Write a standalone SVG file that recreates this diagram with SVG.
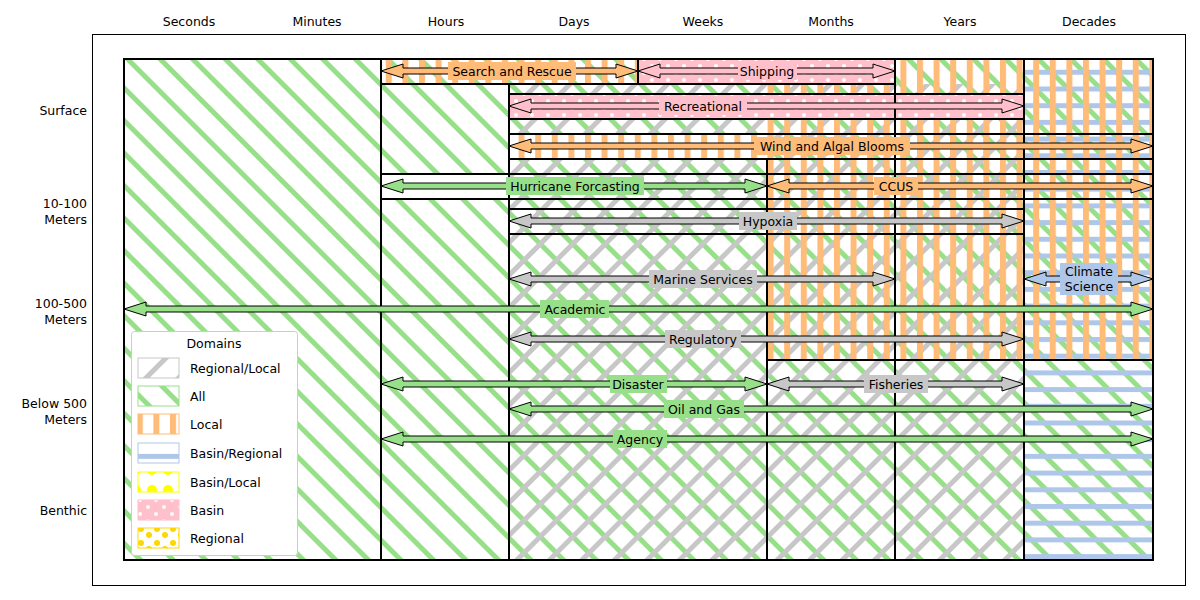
<svg xmlns="http://www.w3.org/2000/svg" width="1200" height="600" viewBox="0 0 1200 600">
<defs>
<pattern id="pAll" width="23" height="23" patternUnits="userSpaceOnUse" patternTransform="rotate(-45)"><rect width="5" height="23" fill="#98df8a"/></pattern>
<pattern id="pRL" width="23" height="23" patternUnits="userSpaceOnUse" patternTransform="rotate(45)"><rect width="5" height="23" fill="#c7c7c7"/></pattern>
<pattern id="pLoc" width="16.6" height="10" patternUnits="userSpaceOnUse" x="4"><rect width="6" height="10" fill="#ffbb78"/></pattern>
<pattern id="pBR" width="10" height="16.7" patternUnits="userSpaceOnUse" y="3"><rect width="10" height="5" fill="#aec7e8"/></pattern>
<pattern id="pBasin" width="16" height="14" patternUnits="userSpaceOnUse"><rect width="16" height="14" fill="#ffc0cb"/><circle cx="4" cy="3" r="2" fill="#fff"/><circle cx="12" cy="10" r="2" fill="#fff"/></pattern>
<pattern id="pBL" width="16" height="20" patternUnits="userSpaceOnUse"><circle cx="8" cy="10" r="5" fill="#ffff00"/></pattern>
<pattern id="pReg" width="16" height="14" patternUnits="userSpaceOnUse"><circle cx="5" cy="3" r="3" fill="#ffd700"/><circle cx="13" cy="11" r="3" fill="#ffd700"/></pattern>
</defs>
<style>
.t{font-family:"DejaVu Sans",sans-serif;font-size:12.5px;fill:#000}
.l{text-anchor:middle}
.r{text-anchor:end}
.b{fill:none;stroke:#000;stroke-width:2}
.a{stroke:#000;stroke-width:1}
.g{fill:#98df8a}.o{fill:#ffbb78}.p{fill:#ffc0cb}.y{fill:#c7c7c7}.u{fill:#aec7e8}
</style>
<rect width="1200" height="600" fill="#fff"/>
<rect x="92.5" y="34.5" width="1093" height="551" fill="none" stroke="#000"/>
<g class="t l">
<text x="189" y="26">Seconds</text><text x="317" y="26">Minutes</text><text x="446" y="26">Hours</text><text x="574" y="26">Days</text><text x="703" y="26">Weeks</text><text x="831" y="26">Months</text><text x="960" y="26">Years</text><text x="1089" y="26">Decades</text>
</g>
<g class="t r">
<text x="87" y="115">Surface</text>
<text x="87" y="208">10-100</text><text x="87" y="224">Meters</text>
<text x="87" y="308">100-500</text><text x="87" y="324">Meters</text>
<text x="87" y="408">Below 500</text><text x="87" y="424">Meters</text>
<text x="87" y="515">Benthic</text>
</g>
<g id="regions">
<rect x="124" y="59" width="1029" height="501" fill="url(#pAll)"/>
<rect x="509" y="84" width="515" height="476" fill="url(#pRL)"/>
<rect x="1024" y="59" width="129" height="501" fill="url(#pBR)"/>
<rect x="767" y="59" width="386" height="301" fill="url(#pLoc)"/>
<rect x="381" y="59" width="257" height="25" fill="url(#pLoc)"/>
<rect x="638" y="59" width="257" height="25" fill="url(#pBasin)"/>
<rect x="509" y="94" width="515" height="25" fill="url(#pBasin)"/>
<rect x="509" y="134" width="258" height="25" fill="#fff"/>
<rect x="509" y="134" width="644" height="25" fill="url(#pLoc)"/>
<rect x="381" y="174" width="128" height="25" fill="#fff"/>
</g>
<g id="borders" class="b">
<rect x="124" y="59" width="1029" height="501"/>
<line x1="381" y1="59" x2="381" y2="560"/>
<line x1="509" y1="84" x2="509" y2="560"/>
<line x1="638" y1="59" x2="638" y2="84"/>
<line x1="767" y1="159" x2="767" y2="560"/>
<line x1="895" y1="59" x2="895" y2="560"/>
<line x1="1024" y1="59" x2="1024" y2="560"/>
<line x1="381" y1="84" x2="895" y2="84"/>
<rect x="509" y="94" width="515" height="25"/>
<rect x="509" y="134" width="644" height="25"/>
<rect x="381" y="174" width="386" height="25"/>
<rect x="767" y="174" width="386" height="25"/>
<rect x="509" y="209" width="515" height="25"/>
<line x1="767" y1="360" x2="1153" y2="360"/>
</g>
<g id="connectors" class="a">
<polygon class="o" points="381,71 403,64 403,68 616,68 616,64 638,71 616,78 616,74 403,74 403,78"/>
<polygon class="p" points="638,71 660,64 660,68 873,68 873,64 895,71 873,78 873,74 660,74 660,78"/>
<polygon class="p" points="509,106 531,99 531,103 1002,103 1002,99 1024,106 1002,113 1002,109 531,109 531,113"/>
<polygon class="o" points="509,146 531,139 531,143 1131,143 1131,139 1153,146 1131,153 1131,149 531,149 531,153"/>
<polygon class="g" points="381,186 403,179 403,183 745,183 745,179 767,186 745,193 745,189 403,189 403,193"/>
<polygon class="o" points="767,186 789,179 789,183 1131,183 1131,179 1153,186 1131,193 1131,189 789,189 789,193"/>
<polygon class="y" points="509,221 531,214 531,218 1002,218 1002,214 1024,221 1002,228 1002,224 531,224 531,228"/>
<polygon class="y" points="509,279 531,272 531,276 873,276 873,272 895,279 873,286 873,282 531,282 531,286"/>
<polygon class="u" points="1024,279 1046,272 1046,276 1131,276 1131,272 1153,279 1131,286 1131,282 1046,282 1046,286"/>
<polygon class="g" points="124,309 146,302 146,306 1131,306 1131,302 1153,309 1131,316 1131,312 146,312 146,316"/>
<polygon class="y" points="509,339 531,332 531,336 1002,336 1002,332 1024,339 1002,346 1002,342 531,342 531,346"/>
<polygon class="g" points="381,384 403,377 403,381 745,381 745,377 767,384 745,391 745,387 403,387 403,391"/>
<polygon class="y" points="767,384 789,377 789,381 1002,381 1002,377 1024,384 1002,391 1002,387 789,387 789,391"/>
<polygon class="g" points="509,409 531,402 531,406 1131,406 1131,402 1153,409 1131,416 1131,412 531,412 531,416"/>
<polygon class="g" points="381,439 403,432 403,436 1131,436 1131,432 1153,439 1131,446 1131,442 403,442 403,446"/>
</g>
<g id="labels">
<rect class="o" x="448" y="62" width="128" height="18"/><text class="t l" x="512" y="76">Search and Rescue</text>
<rect class="p" x="738" y="62" width="59" height="18"/><text class="t l" x="767" y="76">Shipping</text>
<rect class="p" x="659" y="97" width="88" height="18"/><text class="t l" x="703" y="111">Recreational</text>
<rect class="o" x="754" y="137" width="156" height="18"/><text class="t l" x="832" y="151">Wind and Algal Blooms</text>
<rect class="g" x="506" y="177" width="138" height="18"/><text class="t l" x="575" y="191">Hurricane Forcasting</text>
<rect class="o" x="874" y="177" width="44" height="18"/><text class="t l" x="896" y="191">CCUS</text>
<rect class="y" x="739" y="212" width="58" height="18"/><text class="t l" x="768" y="226">Hypoxia</text>
<rect class="y" x="649" y="270" width="108" height="18"/><text class="t l" x="703" y="284">Marine Services</text>
<rect class="u" x="1060" y="263" width="58" height="32"/><text class="t l" x="1089" y="276">Climate</text><text class="t l" x="1089" y="291">Science</text>
<rect class="g" x="540" y="300" width="69" height="18"/><text class="t l" x="575" y="314">Academic</text>
<rect class="y" x="665" y="330" width="76" height="18"/><text class="t l" x="703" y="344">Regulatory</text>
<rect class="g" x="610" y="375" width="57" height="18"/><text class="t l" x="638" y="389">Disaster</text>
<rect class="y" x="864" y="375" width="64" height="18"/><text class="t l" x="896" y="389">Fisheries</text>
<rect class="g" x="664" y="400" width="80" height="18"/><text class="t l" x="704" y="414">Oil and Gas</text>
<rect class="g" x="613" y="430" width="54" height="18"/><text class="t l" x="640" y="444">Agency</text>
</g>
<g id="legend">
<rect x="131.5" y="331.5" width="166" height="224" rx="3" fill="#fff" stroke="#ccc"/>
<text class="t l" x="214" y="348">Domains</text>
<rect x="138" y="358" width="41" height="20" fill="url(#pRL)" stroke="#c7c7c7"/>
<rect x="138" y="386" width="41" height="20" fill="url(#pAll)" stroke="#98df8a"/>
<rect x="138" y="414" width="41" height="20" fill="url(#pLoc)" stroke="#ffbb78"/>
<rect x="138" y="443" width="41" height="20" fill="url(#pBR)" stroke="#aec7e8"/>
<rect x="138" y="472" width="41" height="20" fill="url(#pBL)" stroke="#ffff00"/>
<rect x="138" y="500" width="41" height="20" fill="url(#pBasin)" stroke="#ffc0cb"/>
<rect x="138" y="528" width="41" height="20" fill="url(#pReg)" stroke="#ffd700"/>
<text class="t" x="190" y="373">Regional/Local</text>
<text class="t" x="190" y="401">All</text>
<text class="t" x="190" y="429">Local</text>
<text class="t" x="190" y="458">Basin/Regional</text>
<text class="t" x="190" y="487">Basin/Local</text>
<text class="t" x="190" y="515">Basin</text>
<text class="t" x="190" y="543">Regional</text>
</g>
</svg>
